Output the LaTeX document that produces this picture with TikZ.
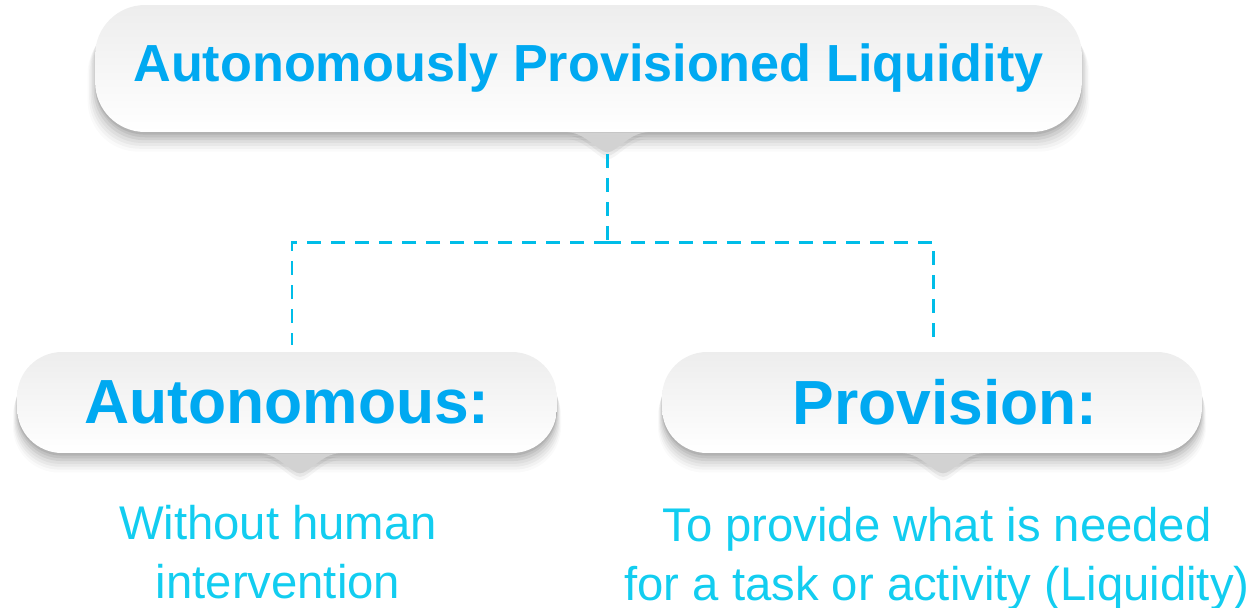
\documentclass[tikz,border=0pt]{standalone}
\usepackage{fontspec}
\setmainfont{Liberation Sans}
\usepackage{tikz}
\usepackage{xcolor}
\usetikzlibrary{positioning, calc, shadows}
\definecolor{APLBlue}{HTML}{00A9F1}
\definecolor{APLCyan}{HTML}{12CDF0}
\definecolor{APLDash}{HTML}{00BDE8}
\definecolor{APLPillTop}{HTML}{EDEDED}
\definecolor{APLTip}{HTML}{D2D2D2}
\tikzset{
    % Pill-shaped boxes with a soft shadow
    pillbox/.style={
        rectangle,
        draw=none,
        top color=APLPillTop,
        bottom color=white,
        inner sep=0pt,
        drop shadow={shadow xshift=0pt, shadow yshift=-1.5pt, opacity=0.07, fill=black},
        drop shadow={shadow xshift=0pt, shadow yshift=-3pt, opacity=0.07, fill=black},
        drop shadow={shadow xshift=0pt, shadow yshift=-4.5pt, opacity=0.06, fill=black, shadow scale=1.003},
        drop shadow={shadow xshift=0pt, shadow yshift=-6pt, opacity=0.05, fill=black, shadow scale=1.006},
        drop shadow={shadow xshift=0pt, shadow yshift=-7.5pt, opacity=0.04, fill=black, shadow scale=1.009},
        drop shadow={shadow xshift=0pt, shadow yshift=-9pt, opacity=0.03, fill=black, shadow scale=1.012},
        drop shadow={shadow xshift=0pt, shadow yshift=-10.5pt, opacity=0.02, fill=black, shadow scale=1.015}
    },
    titlebox/.style={
        pillbox,
        rounded corners=1cm,
        minimum width=19.74cm,
        minimum height=2.54cm,
        text=APLBlue,
        font=\fontsize{29.7}{36}\bfseries\selectfont
    },
    termbox/.style={
        pillbox,
        rounded corners=0.9cm,
        minimum width=10.8cm,
        minimum height=2.02cm,
        text=APLBlue,
        font=\fontsize{35.5}{42}\bfseries\selectfont
    },
    % Little pointer under each box
    tipfill/.style={
        fill=APLTip,
        drop shadow={shadow xshift=0pt, shadow yshift=-2pt, opacity=0.06, fill=black},
        drop shadow={shadow xshift=0pt, shadow yshift=-4pt, opacity=0.04, fill=black}
    },
    % Meaning text under the boxes
    notetext/.style={
        text=APLCyan,
        align=center,
        inner sep=0pt,
        font=\fontsize{26.9}{33.4}\selectfont
    },
    % Dashed connectors
    dashlink/.style={
        draw=APLDash,
        line width=1.7pt,
        dash pattern=on 7.9pt off 5.7pt
    }
}

\begin{document}
\begin{tikzpicture}[x=0.02cm, y=-0.02cm]
    \useasboundingbox (0,0) rectangle (1257,608);

    % Boxes
    \node[titlebox] (title) at (588.5,68.5) {Autonomously Provisioned Liquidity};
    \node[termbox] (auto) at (287,402.5) {Autonomous:};
    \node[termbox] (prov) at (932,402.5) {\hspace*{0.52cm}Provision:};

    % Pointers
    \coordinate (ttop) at ($(title.south)+(19,0)$);
    \coordinate (atop) at ($(auto.south)+(13,0)$);
    \coordinate (ptop) at ($(prov.south)+(11,0)$);
    \foreach \t in {ttop,atop,ptop} {
        \fill[tipfill] ($(\t)+(-40,0)$) .. controls ($(\t)+(-22,0)$) and ($(\t)+(-9,20)$) .. ($(\t)+(0,20)$)
            .. controls ($(\t)+(9,20)$) and ($(\t)+(22,0)$) .. ($(\t)+(40,0)$) -- cycle;
    }

    % Connectors
    \coordinate (ttip) at ($(ttop)+(0,22)$);
    \coordinate (fork) at ($(ttip)+(0,88)$);
    \coordinate (aend) at ($(auto.north)+(5,-7)$);
    \coordinate (pend) at ($(prov.north)+(1,-7)$);
    \draw[dashlink] (ttip) -- (fork);
    \draw[dashlink] (fork) -| (aend);
    \draw[dashlink] (fork) -| (pend);

    % Meanings
    \node[notetext, anchor=north] (autonote) at (278,505) {Without human\\intervention};
    \node[notetext, anchor=north] (provnote) at (937,507) {To provide what is needed\\for a task or activity (Liquidity)};
\end{tikzpicture}
\end{document}
